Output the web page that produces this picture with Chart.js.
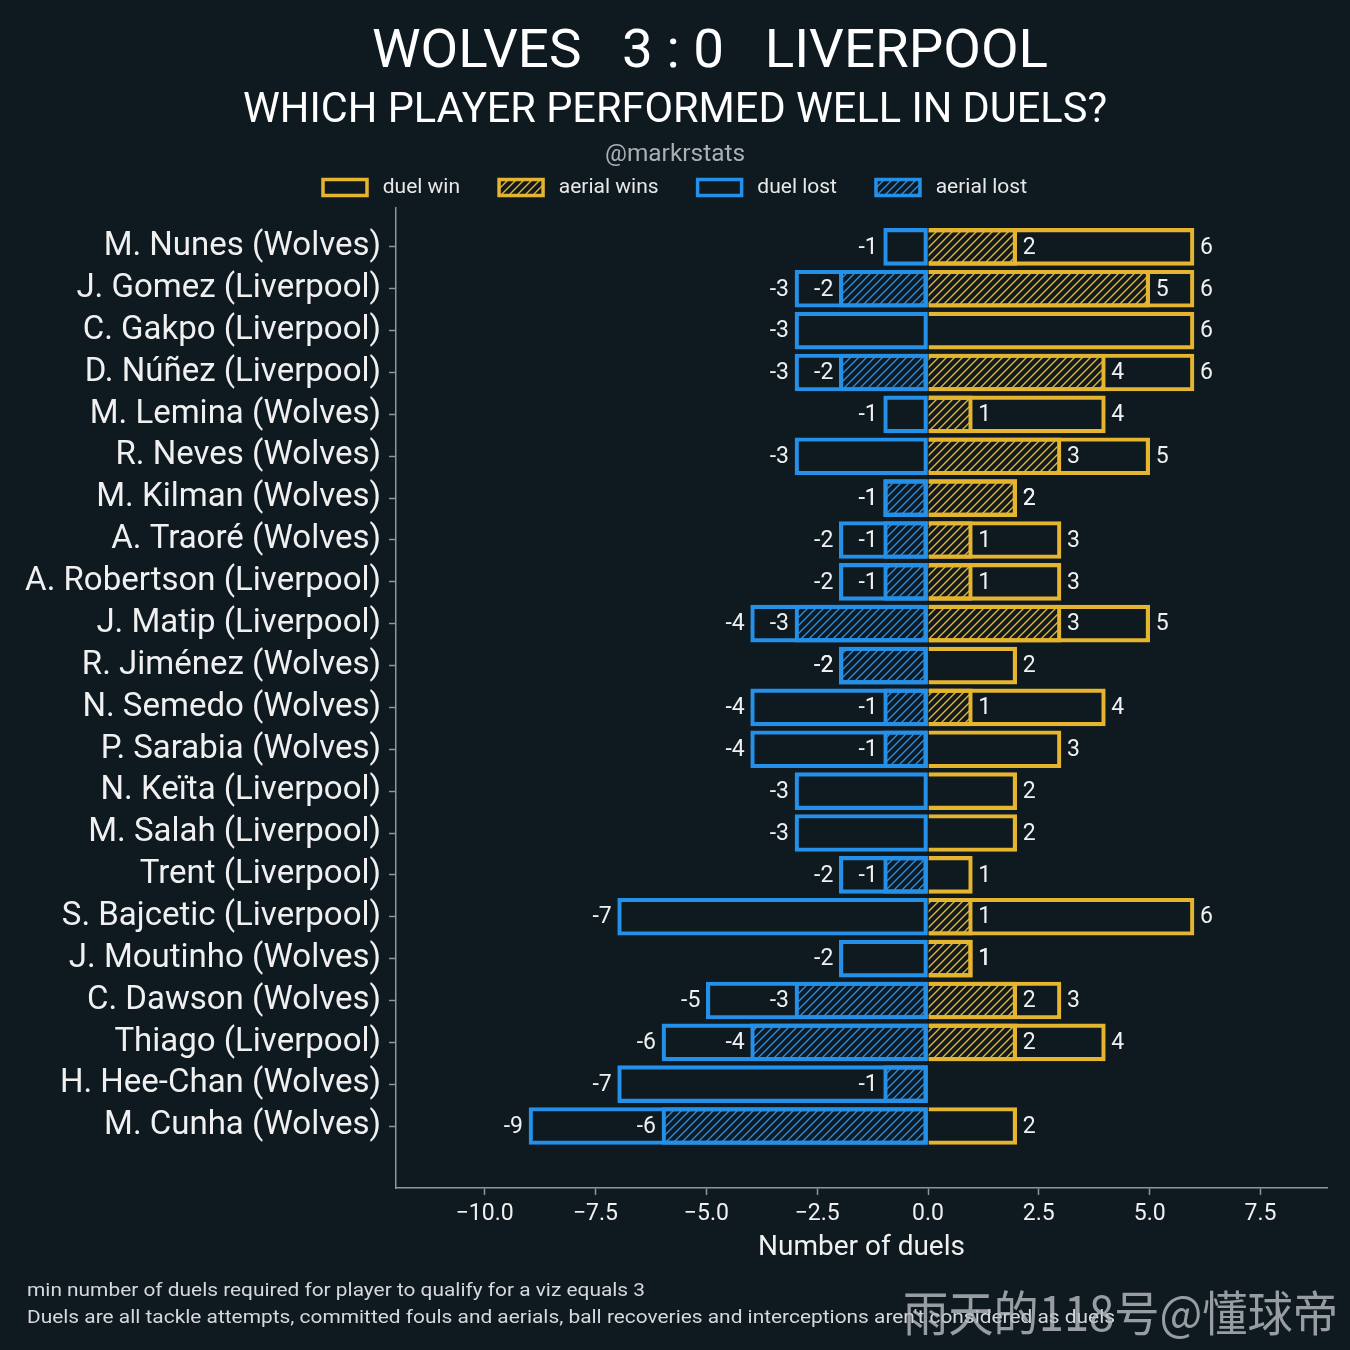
<!DOCTYPE html>
<html><head><meta charset="utf-8">
<script src="https://cdn.jsdelivr.net/npm/chart.js@4.4.1/dist/chart.umd.min.js"></script>
<style>html,body{margin:0;padding:0;background:#0f1920;}</style>
</head><body>
<canvas id="c" width="1350" height="1350"></canvas>
<script>
// ---------- data ----------
const players = [
  'M. Nunes (Wolves)', 'J. Gomez (Liverpool)', 'C. Gakpo (Liverpool)', 'D. Núñez (Liverpool)',
  'M. Lemina (Wolves)', 'R. Neves (Wolves)', 'M. Kilman (Wolves)', 'A. Traoré (Wolves)',
  'A. Robertson (Liverpool)', 'J. Matip (Liverpool)', 'R. Jiménez (Wolves)', 'N. Semedo (Wolves)',
  'P. Sarabia (Wolves)', 'N. Keïta (Liverpool)', 'M. Salah (Liverpool)', 'Trent (Liverpool)',
  'S. Bajcetic (Liverpool)', 'J. Moutinho (Wolves)', 'C. Dawson (Wolves)', 'Thiago (Liverpool)',
  'H. Hee-Chan (Wolves)', 'M. Cunha (Wolves)'
];
const duelWin    = [6, 6, 6, 6, 4, 5, 2, 3, 3, 5, 2, 4, 3, 2, 2, 1, 6, 1, 3, 4, 0, 2];
const aerialWin  = [2, 5, 0, 4, 1, 3, 2, 1, 1, 3, 0, 1, 0, 0, 0, 0, 1, 1, 2, 2, 0, 0];
const duelLost   = [-1, -3, -3, -3, -1, -3, -1, -2, -2, -4, -2, -4, -4, -3, -3, -2, -7, -2, -5, -6, -7, -9];
const aerialLost = [0, -2, 0, -2, 0, 0, -1, -1, -1, -3, -2, -1, -1, 0, 0, -1, 0, 0, -3, -4, -1, -6];
const seriesNames = ['duel win', 'aerial wins', 'duel lost', 'aerial lost'];
const xTicks = [-10, -7.5, -5, -2.5, 0, 2.5, 5, 7.5];

const titleText = 'WOLVES   3 : 0   LIVERPOOL';
const subtitleText = 'WHICH PLAYER PERFORMED WELL IN DUELS?';
const creditText = '@markrstats';
const noteLines = [
  'min number of duels required for player to qualify for a viz equals 3',
  "Duels are all tackle attempts, committed fouls and aerials, ball recoveries and interceptions aren't considered as duels"
];
const watermarkText = '雨天的118号@懂球帝';

// ---------- styles ----------
const BG = '#0f1920';
const YEL = '#e6b52f';
const BLUE = '#2590e8';
const TXT = '#f0f0f0';
const AX = '#8b979c';

function hatch(color) {
  const c = document.createElement('canvas');
  c.width = 8; c.height = 8;
  const g = c.getContext('2d');
  g.strokeStyle = color; g.lineWidth = 1.4;
  g.beginPath();
  g.moveTo(-1, 9); g.lineTo(9, -1);
  g.moveTo(-1, 1); g.lineTo(1, -1);
  g.moveTo(7, 9); g.lineTo(9, 7);
  g.stroke();
  return g.createPattern(c, 'repeat');
}
const toPts = arr => arr.map((v, i) => ({ x: v, y: i }));

function drawFitText(ctx, text, cx, baseline, font, color, targetW, align) {
  ctx.save();
  ctx.font = font;
  const w = ctx.measureText(text).width;
  const s = targetW ? targetW / w : 1;
  ctx.translate(cx, baseline);
  ctx.scale(s, 1);
  ctx.textAlign = align || 'center';
  ctx.textBaseline = 'alphabetic';
  ctx.fillStyle = color;
  ctx.fillText(text, 0, 0);
  ctx.restore();
}

const decor = {
  id: 'decor',
  beforeDraw(chart) {
    const ctx = chart.ctx;
    ctx.save();
    ctx.fillStyle = BG;
    ctx.fillRect(0, 0, chart.width, chart.height);
    ctx.restore();
    drawFitText(ctx, titleText, 710, 67, '54px Roboto', '#ffffff', 676);
    drawFitText(ctx, subtitleText, 675, 122, '42px Roboto', '#ffffff', 864);
    drawFitText(ctx, creditText, 675, 161, '24px Roboto', '#a9afb3', 140);
  },
  afterDatasetsDraw(chart) {
    const ctx = chart.ctx;
    ctx.save();
    ctx.font = '23px Roboto';
    ctx.fillStyle = TXT;
    ctx.textBaseline = 'middle';
    chart.data.datasets.forEach((ds, di) => {
      const meta = chart.getDatasetMeta(di);
      meta.data.forEach((el, i) => {
        const v = ds.data[i].x;
        if (!v) return;
        if (v > 0) { ctx.textAlign = 'left'; ctx.fillText(String(v), el.x + 6, el.y + 1); }
        else { ctx.textAlign = 'right'; ctx.fillText(String(v), el.x - 6, el.y + 1); }
      });
    });
    ctx.restore();
  },
  afterDraw(chart) {
    const ctx = chart.ctx;
    drawFitText(ctx, noteLines[0], 27, 1296, '19px Roboto', '#d6d9db', 618, 'left');
    drawFitText(ctx, noteLines[1], 27, 1323, '19px Roboto', '#d6d9db', 1088, 'left');
    ctx.save();
    ctx.globalAlpha = 0.8;
    drawFitText(ctx, watermarkText, 903, 1331, '48px "Noto Sans CJK SC"', '#b9bec2', 435, 'left');
    ctx.restore();
  }
};

const common = { grouped: false, barThickness: 37, borderWidth: 3.5 };

new Chart(document.getElementById('c'), {
  type: 'bar',
  data: {
    datasets: [
      Object.assign({ label: seriesNames[0], data: toPts(duelWin), backgroundColor: 'rgba(0,0,0,0)', borderColor: YEL, borderSkipped: 'start' }, common),
      Object.assign({ label: seriesNames[1], data: toPts(aerialWin), backgroundColor: hatch(YEL), borderColor: YEL, borderSkipped: 'start' }, common),
      Object.assign({ label: seriesNames[2], data: toPts(duelLost), backgroundColor: 'rgba(0,0,0,0)', borderColor: BLUE, borderSkipped: false }, common),
      Object.assign({ label: seriesNames[3], data: toPts(aerialLost), backgroundColor: hatch(BLUE), borderColor: BLUE, borderSkipped: false }, common)
    ]
  },
  options: {
    responsive: false,
    animation: false,
    devicePixelRatio: 1,
    indexAxis: 'y',
    layout: { padding: { top: 138, left: 23, right: 23, bottom: 85 } },
    plugins: {
      title: { display: false },
      tooltip: { enabled: false },
      legend: {
        display: true, position: 'top', align: 'center',
        labels: {
          color: '#e8e8e8', boxWidth: 44, boxHeight: 16, padding: 39,
          font: { family: 'Roboto', size: 21 },
          generateLabels: chart => Chart.defaults.plugins.legend.labels.generateLabels(chart)
            .map(it => Object.assign(it, { text: ' ' + it.text }))
        }
      }
    },
    scales: {
      x: {
        type: 'linear', min: -12, max: 9, offset: false,
        afterBuildTicks: s => { s.ticks = xTicks.map(v => ({ value: v })); },
        afterFit: s => { s.height = 77; },
        ticks: {
          callback: v => (v < 0 ? '\u2212' : '') + Math.abs(v).toFixed(1),
          color: TXT, font: { family: 'Roboto', size: 23 }, padding: 5,
          maxRotation: 0, autoSkip: false
        },
        grid: { offset: false, drawOnChartArea: false, drawTicks: true, tickLength: 7, tickWidth: 1.5, color: AX },
        border: { display: true, color: AX, width: 1.5 },
        title: { display: true, text: 'Number of duels', color: TXT, font: { family: 'Roboto', size: 28 }, padding: { top: 1, bottom: 0 } }
      },
      y: {
        type: 'linear', reverse: true, min: -0.93, max: 22.48, offset: false,
        afterBuildTicks: s => { s.ticks = players.map((_, i) => ({ value: i })); },
        afterFit: s => { s.width = 373; },
        ticks: {
          callback: v => players[v],
          color: TXT, font: { family: 'Roboto', size: 33 }, padding: 8, autoSkip: false
        },
        grid: { offset: false, drawOnChartArea: false, drawTicks: true, tickLength: 7, tickWidth: 1.5, color: AX },
        border: { display: true, color: AX, width: 1.5 }
      }
    }
  },
  plugins: [decor]
});
</script>
</body></html>
